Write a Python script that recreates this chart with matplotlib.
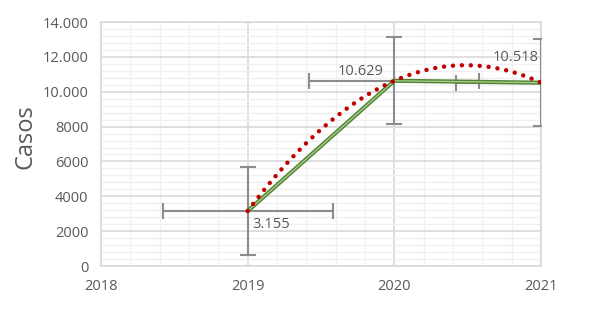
import matplotlib.pyplot as plt
import numpy as np
from matplotlib.ticker import MultipleLocator, FixedLocator

years = [2019, 2020, 2021]
casos = [3155, 10629, 10518]
labels = ["3.155", "10.629", "10.518"]
y_err = [2500, 2500, 2500]
x_err = [0.58, 0.58, 0.58]

x_ticks = [2018, 2019, 2020, 2021]
y_ticks = [0, 2000, 4000, 6000, 8000, 10000, 12000, 14000]
y_tick_labels = ["0", "2000", "4000", "6000", "8000", "10.000", "12.000", "14.000"]

plt.rcParams['font.family'] = ['Open Sans', 'DejaVu Sans']
text_color = "#595959"

fig = plt.figure(figsize=(5.89, 3.19), dpi=100)
ax = fig.add_axes([0.1715, 0.166, 0.747, 0.765])

ax.set_xlim(2018, 2021)
ax.set_ylim(0, 14000)

# grid
ax.xaxis.set_major_locator(FixedLocator(x_ticks))
ax.xaxis.set_minor_locator(MultipleLocator(0.2))
ax.yaxis.set_major_locator(FixedLocator(y_ticks))
ax.yaxis.set_minor_locator(MultipleLocator(400))
ax.grid(which="major", color="#d9d9d9", lw=1.2, zorder=0)
ax.grid(which="minor", color="#f0f0f0", lw=1.0, zorder=0)
ax.set_axisbelow(True)
for s in ax.spines.values():
    s.set_color("#d9d9d9")
    s.set_linewidth(1.2)
    s.set_zorder(1)

ax.set_yticklabels(y_tick_labels)
ax.tick_params(which="both", length=0, labelsize=10.5, labelcolor=text_color)
ax.tick_params(axis="x", pad=9)
ax.tick_params(axis="y", pad=9)
ax.set_ylabel("Casos", fontsize=17, color=text_color)
ax.yaxis.set_label_coords(-0.145, 0.53)

# error bars
ax.errorbar(years, casos, xerr=x_err, yerr=y_err, fmt="none", ecolor="#8c8c8c",
            elinewidth=1.5, capsize=6, capthick=1.5, zorder=3)

# series (double green line)
ax.plot(years, casos, color="#548235", lw=3.0, zorder=4, solid_capstyle="butt")
ax.plot(years, casos, color="#a9d18e", lw=0.9, zorder=4, solid_capstyle="butt")

# polynomial trendline (order 2)
coef = np.polyfit(years, casos, 2)
xt = np.linspace(years[0], years[-1], 200)
ax.plot(xt, np.polyval(coef, xt), color="#c00000", lw=3.2,
        linestyle=(0, (0.01, 2.0)), dash_capstyle="round", zorder=5)

# data labels (offsets in points)
offsets = [(3.6, -9.4, "left"), (-8, 7, "right"), (-2, 18, "right")]
for x, y, lab, (dx, dy, ha) in zip(years, casos, labels, offsets):
    ax.annotate(lab, (x, y), xytext=(dx, dy), textcoords="offset points",
                ha=ha, va="center", fontsize=10.5, color=text_color, zorder=6)

fig.savefig("out.png", dpi=100)
